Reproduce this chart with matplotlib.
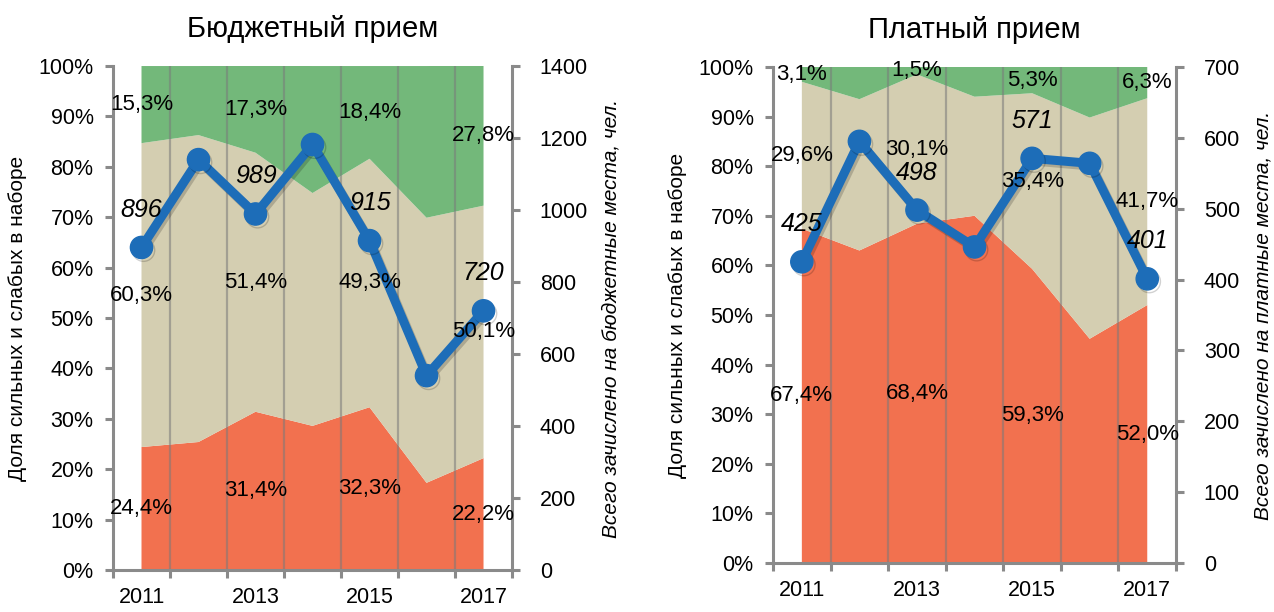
import matplotlib
matplotlib.use("Agg")
import matplotlib.pyplot as plt
import matplotlib.patheffects as pe
from matplotlib import font_manager

# Годы набора и доли (%) слабых / средних / сильных абитуриентов
YEARS = ["2011", "2012", "2013", "2014", "2015", "2016", "2017"]

BUDGET_RED = [24.4, 25.4, 31.4, 28.6, 32.3, 17.3, 22.2]
BUDGET_TAN = [60.3, 60.9, 51.4, 46.2, 49.3, 52.6, 50.1]
BUDGET_GREEN = [15.3, 13.7, 17.3, 25.2, 18.4, 30.1, 27.8]
BUDGET_TOTAL = [896, 1140, 989, 1182, 915, 540, 720]

PAID_RED = [67.4, 63.0, 68.4, 70.0, 59.3, 45.2, 52.0]
PAID_TAN = [29.6, 30.5, 30.1, 24.0, 35.4, 44.6, 41.7]
PAID_GREEN = [3.1, 6.5, 1.5, 6.0, 5.3, 10.2, 6.3]
PAID_TOTAL = [425, 595, 498, 446, 571, 564, 401]

LABELED = [0, 2, 4, 6]   # подписываем через год

C_RED = "#F2714F"
C_TAN = "#D4CEB1"
C_GREEN = "#73B87A"
C_BLUE = "#1D6DB8"
C_AXIS = "#8A8A8A"

names = {f.name for f in font_manager.fontManager.ttflist}
NARROW = "Liberation Sans Narrow" if "Liberation Sans Narrow" in names else "Liberation Sans"

plt.rcParams["font.family"] = ["Liberation Sans", "DejaVu Sans"]


def pct(v):
    return f"{v:.1f}".replace(".", ",") + "%"


def draw_panel(fig, rect, title, red, tan, green, totals, rmax, rstep, rlabel):
    ax = fig.add_axes(rect)
    x = list(range(len(YEARS)))
    ax.stackplot(x, red, tan, green, colors=[C_RED, C_TAN, C_GREEN], zorder=1)

    ax.set_xlim(-0.5, len(YEARS) - 0.5)
    ax.set_ylim(0, 100)
    ax.set_yticks(range(0, 101, 10))
    ax.set_yticklabels([f"{v}%" for v in range(0, 101, 10)])

    bounds = [i - 0.5 for i in range(len(YEARS) + 1)]
    ax.set_xticks(bounds)
    ax.set_xticklabels([""] * len(bounds))
    ax.set_xticks(LABELED, [YEARS[i] for i in LABELED], minor=True)
    for b in bounds[1:-1]:
        ax.axvline(b, color="#7a7a7a", lw=1.6, alpha=0.55, zorder=2)

    for side in ("top", "right"):
        ax.spines[side].set_visible(False)
    for side in ("left", "bottom"):
        ax.spines[side].set_color(C_AXIS)
        ax.spines[side].set_linewidth(2.2)
    ax.tick_params(axis="both", which="major", direction="out", length=6,
                   width=2.2, color=C_AXIS, labelsize=15.5, pad=8)
    ax.tick_params(axis="x", which="minor", length=0, labelsize=15.5, pad=12)
    ax.set_ylabel("Доля сильных и слабых в наборе", fontsize=15, labelpad=8)
    ax.set_title(title, fontsize=21, pad=21)

    ax2 = ax.twinx()
    ax2.set_ylim(0, rmax)
    ax2.set_yticks(range(0, rmax + 1, rstep))
    for side in ("top", "left", "bottom"):
        ax2.spines[side].set_visible(False)
    ax2.spines["right"].set_color(C_AXIS)
    ax2.spines["right"].set_linewidth(2.2)
    ax2.tick_params(axis="y", direction="out", length=6, width=2.2,
                    color=C_AXIS, labelsize=15.5, pad=14)
    ax2.set_ylabel(rlabel, fontsize=15, style="italic", labelpad=10)

    ax2.plot(x, totals, color=C_BLUE, lw=6.5, marker="o", ms=16,
             solid_joinstyle="round", zorder=3,
             path_effects=[pe.SimpleLineShadow(offset=(1.5, -2), alpha=0.18),
                           pe.Normal()])

    # подписи долей в середине каждого слоя
    for i in LABELED:
        mids = [red[i] / 2, red[i] + tan[i] / 2, red[i] + tan[i] + green[i] / 2]
        for val, m in zip((red[i], tan[i], green[i]), mids):
            ax2.text(i, m, pct(val), transform=ax.transData, ha="center",
                     va="center", fontsize=16, family=[NARROW, "Liberation Sans"],
                     zorder=5)
        ax2.annotate(str(totals[i]), (i, totals[i]), xytext=(0, 27),
                     textcoords="offset points", ha="center", va="center",
                     fontsize=18, style="italic", zorder=5)
    return ax, ax2


fig = plt.figure(figsize=(12.74, 6.12), dpi=100)

draw_panel(fig, [0.0887, 0.0686, 0.3132, 0.8235], "Бюджетный прием",
           BUDGET_RED, BUDGET_TAN, BUDGET_GREEN, BUDGET_TOTAL, 1400, 200,
           "Всего зачислено на бюджетные места, чел.")
draw_panel(fig, [0.6068, 0.0801, 0.3163, 0.8105], "Платный прием",
           PAID_RED, PAID_TAN, PAID_GREEN, PAID_TOTAL, 700, 100,
           "Всего зачислено на платные места, чел.")

fig.savefig("out.png", dpi=100)
